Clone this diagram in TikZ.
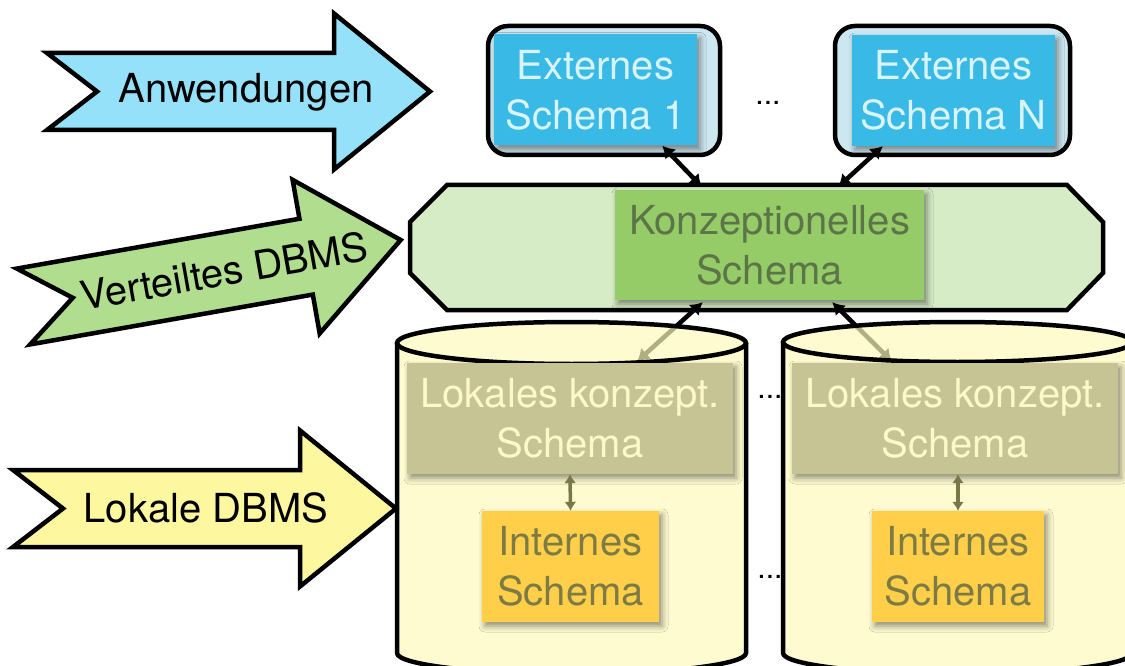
\documentclass[tikz,border=0pt]{standalone}
\usepackage{fontspec}
\setmainfont{TeX Gyre Heros}
\usetikzlibrary{arrows.meta,calc,shadows.blur}

\definecolor{anwfill}{HTML}{95E1FA}
\definecolor{vdbfill}{HTML}{B0DD8E}
\definecolor{ldbfill}{HTML}{FDF8A0}
\definecolor{framefill}{HTML}{CDE7F0}
\definecolor{extblue}{HTML}{39B9E5}
\definecolor{exttext}{HTML}{D9F3FA}
\definecolor{octfill}{HTML}{D6ECC6}
\definecolor{konzfill}{HTML}{96CC68}
\definecolor{konztext}{HTML}{5C7548}
\definecolor{cylfill}{HTML}{FDF9BC}
\definecolor{lokfill}{HTML}{C6C494}
\definecolor{loktext}{HTML}{FDF8C9}
\definecolor{intfill}{HTML}{FFCF49}
\definecolor{inttext}{HTML}{7D7B45}
\definecolor{linkolive}{HTML}{77774A}

\begin{document}
\begin{tikzpicture}[x=1pt,y=-1pt,
  txt/.style={font=\fontsize{40}{50}\selectfont, align=center, inner sep=0pt},
  outline/.style={draw=black, line width=4.5pt, line join=miter},
  schemabox/.style={txt, minimum height=111pt,
    blur shadow={shadow xshift=3pt, shadow yshift=-4pt, shadow blur radius=6pt, shadow opacity=45}},
  dblarrow/.style={line width=4.5pt, {Latex[length=12pt,width=15pt]}-{Latex[length=12pt,width=15pt]}},
  minilink/.style={draw=linkolive, line width=3.5pt, {Latex[length=9pt,width=12pt]}-{Latex[length=9pt,width=12pt]}},
  ellip/.style={font=\fontsize{30}{30}\selectfont, inner sep=0pt, anchor=base},
  fatarrow/.pic={\path[pic actions] (0,-38.5) -- (50,0) -- (0,38.5) -- (287,38.5) -- (287,78)
      -- (383,0) -- (287,-78) -- (287,-38.5) -- cycle;},
]
\useasboundingbox (0,0) rectangle (1125,666);

% layer arrows on the left
\pic[outline, fill=anwfill] at (47,91.5) {fatarrow};
\node[txt] (anw) at (246,92) {Anwendungen};
\pic[outline, fill=vdbfill, rotate=10] at (23.5,306.5) {fatarrow};
\node[txt, rotate=10] (vdb) at (224,271) {Verteiltes DBMS};
\pic[outline, fill=ldbfill] at (13,508.5) {fatarrow};
\node[txt] (ldb) at (206,508) {Lokale DBMS};

% external schemas
\draw[outline, fill=framefill, rounded corners=20pt] (488,26) rectangle (720,155);
\draw[outline, fill=framefill, rounded corners=20pt] (835,26) rectangle (1070,155);
\node[schemabox, fill=extblue, text=exttext, minimum width=203pt] (e1) at (595.5,90) {Externes\\Schema 1};
\node[schemabox, fill=extblue, text=exttext, minimum width=203pt] (e2) at (953.5,90.5) {Externes\\Schema N};
\node[ellip] (dtop) at (768,105) {...};

% distributed DBMS layer
\draw[outline, fill=octfill] (447,185) -- (1067,185) -- (1103,222) -- (1103,273) -- (1067,310)
  -- (447,310) -- (410,273) -- (410,222) -- cycle;
\node[schemabox, fill=konzfill, text=konztext, minimum width=309pt, minimum height=110pt] (k) at (769.5,245) {Konzeptionelles\\Schema};

\draw[dblarrow] ($(e1.south east)+(-35,0)$) -- ($(k.north west)+(87,-3)$);
\draw[dblarrow] ($(e2.south west)+(31,0)$) -- ($(k.north east)+(-86,-3)$);

% local schema boxes (targets of the links below)
\path (570,418.5) coordinate (l1c) (955,418.5) coordinate (l2c);
\draw[dblarrow] ($(k.south west)+(88,2)$) -- ($(l1c)+(67,-57)$);
\draw[dblarrow] ($(k.south east)+(-92,2)$) -- ($(l2c)+(-63,-57)$);

\node[ellip] (dmid) at (770,398) {...};
\node[ellip] (dbot) at (770,578) {...};

% local databases as cylinders
\foreach \cx/\cy in {571.5/343, 957.5/342}{
  \fill[cylfill, fill opacity=0.7] (\cx-174.5,\cy) -- (\cx-174.5,653)
    arc[start angle=180, end angle=0, x radius=174.5, y radius=21]
    -- (\cx+174.5,\cy) arc[start angle=0, end angle=-180, x radius=174.5, y radius=\cy-322] -- cycle;
  \draw[outline] (\cx-174.5,\cy) -- (\cx-174.5,653)
    arc[start angle=180, end angle=0, x radius=174.5, y radius=21] -- (\cx+174.5,\cy);
  \draw[outline] (\cx,\cy) ellipse[x radius=174.5, y radius=\cy-322];
}

\node[schemabox, fill=lokfill, text=loktext, minimum width=326pt] (l1) at (l1c) {Lokales konzept.\\Schema};
\node[schemabox, fill=lokfill, text=loktext, minimum width=326pt] (l2) at (l2c) {Lokales konzept.\\Schema};
\node[schemabox, fill=intfill, text=inttext, minimum width=177pt] (i1) at (570.5,566.5) {Internes\\Schema};
\node[schemabox, fill=intfill, text=inttext, minimum width=172pt] (i2) at (958,566.5) {Internes\\Schema};

\draw[minilink] (l1.south) -- (i1.north);
\draw[minilink] (l2.south -| i2.north) -- (i2.north);
\end{tikzpicture}
\end{document}
